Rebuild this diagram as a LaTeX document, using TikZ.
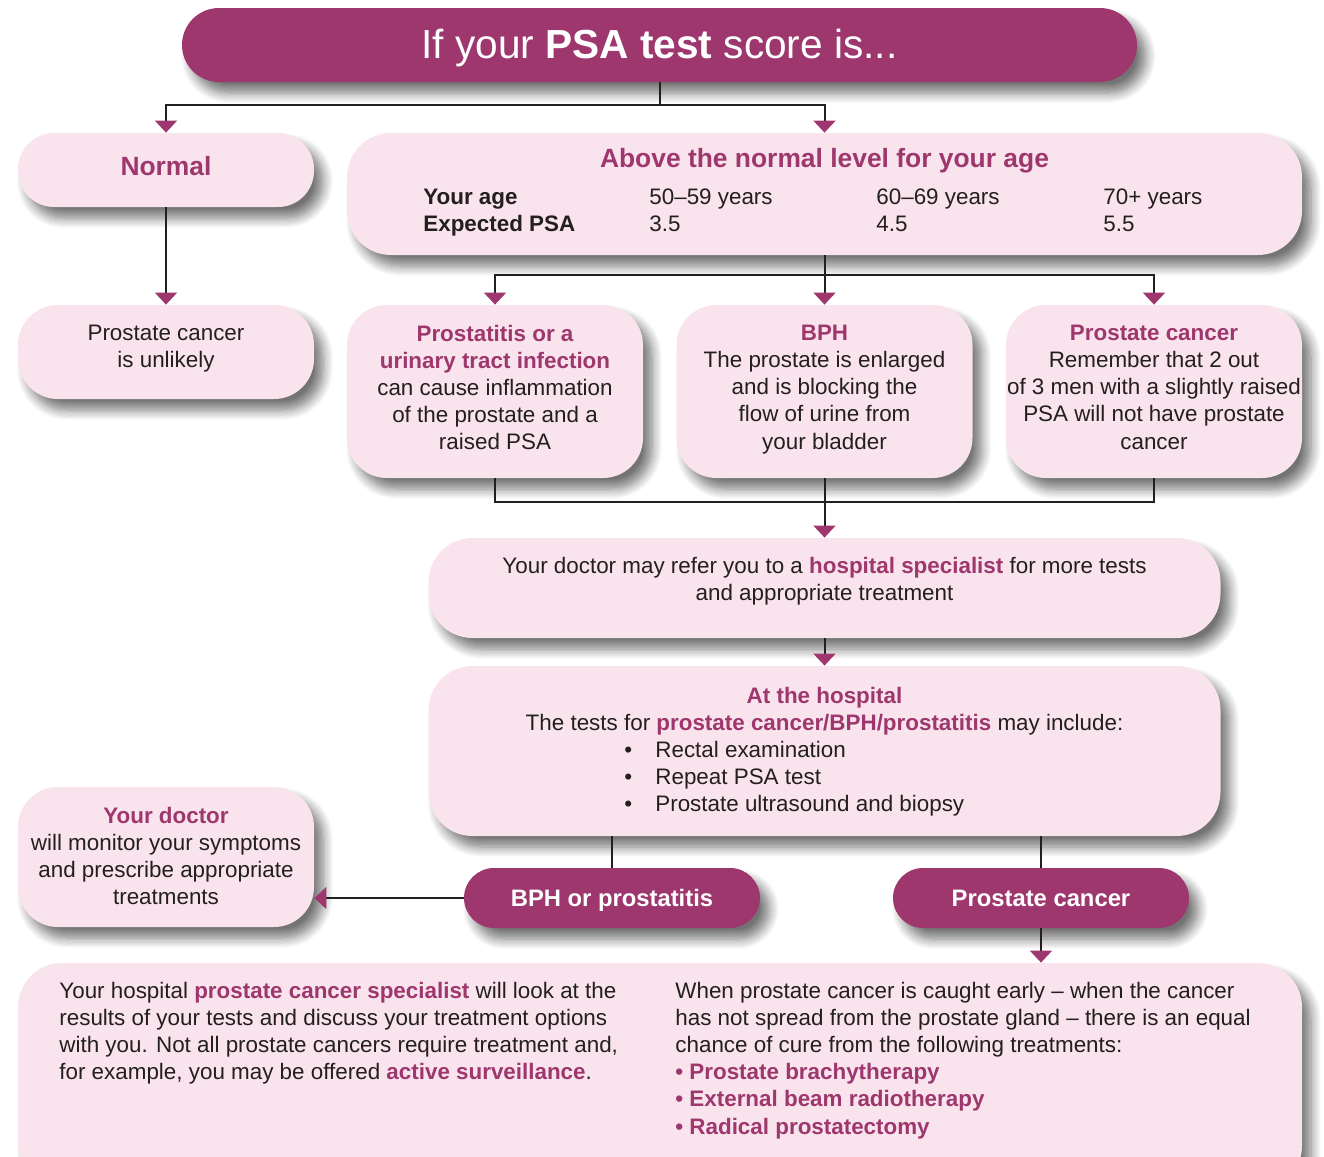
\documentclass[tikz,border=0pt]{standalone}
\usepackage{fontspec}
\setmainfont{Liberation Sans}
\usetikzlibrary{arrows.meta,shadows.blur}
\definecolor{mag}{RGB}{158,55,110}
\definecolor{pinkf}{RGB}{249,227,236}
\definecolor{linec}{RGB}{35,31,32}
\newcommand\mg[1]{{\bfseries\color{mag}#1}}
\begin{document}
\begin{tikzpicture}[x=0.5pt,y=-0.5pt,
  every node/.style={font=\fontsize{11.2}{13.6}\selectfont, inner sep=0pt, text=linec},
  shad/.style={blur shadow={shadow xshift=4.5pt, shadow yshift=-5.5pt, shadow blur radius=5pt, shadow blur steps=10, shadow opacity=55}},
  pinkbox/.style={shad, fill=pinkf, rounded corners=20pt},
  pillbox/.style={shad, fill=mag, rounded corners=15pt, minimum width=148pt, minimum height=30pt},
  hd/.style={font=\fontsize{13.2}{16}\selectfont\bfseries, text=mag},
  pilltext/.style={font=\fontsize{11.9}{14}\selectfont\bfseries, text=white},
  ctext/.style={align=center, anchor=north},
  link/.style={line width=1pt, draw=linec},
  arr/.style={link, -{Triangle[width=11pt,length=6pt,color=mag,fill=mag]}},
]
\useasboundingbox (0,0) rectangle (1324,1157);
\clip (0,0) rectangle (1324,1157);

% ---------- boxes ----------
\node[shad, fill=mag, rounded corners=18.5pt, minimum width=477.5pt, minimum height=37pt] (title) at (659.5,45) {};
\node[pinkbox, rounded corners=18pt, minimum width=148pt, minimum height=37pt] (normal) at (166,170) {};
\node[pinkbox, rounded corners=22pt, minimum width=477.5pt, minimum height=61pt] (above) at (824.5,194) {};
\node[pinkbox, minimum width=148pt, minimum height=47pt] (unlikely) at (166,352) {};
\node[pinkbox, minimum width=148pt, minimum height=86.5pt] (b1) at (495,391.5) {};
\node[pinkbox, minimum width=148pt, minimum height=86.5pt] (b2) at (824.5,391.5) {};
\node[pinkbox, minimum width=148pt, minimum height=86.5pt] (b3) at (1154,391.5) {};
\node[pinkbox, rounded corners=22pt, minimum width=396pt, minimum height=50pt] (doctor) at (824.5,588) {};
\node[pinkbox, rounded corners=22pt, minimum width=396pt, minimum height=85pt] (hosp) at (824.5,751) {};
\node[pinkbox, minimum width=148pt, minimum height=70pt] (ydoc) at (166,857) {};
\node[pillbox] (bph) at (612,898) {};
\node[pillbox] (pc) at (1041,898) {};
\node[pinkbox, rounded corners=22pt, minimum width=642pt, minimum height=113.5pt] (bottom) at (660,1076.5) {};

% ---------- connectors ----------
\coordinate (j1) at (659.5,105);
\draw[link] (title.south) -- (j1);
\draw[arr] (j1) -| (normal.north);
\draw[arr] (j1) -| (above.north);
\draw[arr] (normal.south) -- (unlikely.north);
\coordinate (j2) at (824.5,275);
\draw[link] (above.south) -- (j2);
\draw[arr] (j2) -| (b1.north);
\draw[arr] (j2) -| (b3.north);
\draw[arr] (j2) -- (b2.north);
\coordinate (j3) at (824.5,502);
\draw[link] (b1.south) |- (j3);
\draw[link] (b3.south) |- (j3);
\draw[arr] (b2.south) -- (doctor.north);
\draw[arr] (doctor.south) -- (hosp.north);
\draw[link] (hosp.south -| bph.north) -- (bph.north);
\draw[link] (hosp.south -| pc.north) -- (pc.north);
\draw[arr] (bph.west) -- (bph.west -| ydoc.east);
\draw[arr] (pc.south) -- (pc.south |- bottom.north);

% ---------- texts ----------
\node[anchor=base, text=white, font=\fontsize{20.3}{24}\selectfont] (titlet) at (659.5,58) {If your \textbf{PSA test} score is...};
\node[hd, anchor=base] (normalt) at (166,175) {Normal};
\node[hd, anchor=base] (abovet) at (824.5,167) {Above the normal level for your age};
\node[anchor=base west, font=\fontsize{11.2}{13.6}\selectfont\bfseries] (agel) at (423,204) {Your age};
\node[anchor=base west, font=\fontsize{11.2}{13.6}\selectfont\bfseries] (psal) at (423,231) {Expected PSA};
\node[anchor=base west] (a1) at (649,204) {50–59 years};
\node[anchor=base west] (p1) at (649,231) {3.5};
\node[anchor=base west] (a2) at (876,204) {60–69 years};
\node[anchor=base west] (p2) at (876,231) {4.5};
\node[anchor=base west] (a3) at (1103,204) {70+ years};
\node[anchor=base west] (p3) at (1103,231) {5.5};

\node[ctext] (unlikelyt) at (166,324.5) {Prostate cancer\\is unlikely};
\node[ctext] (b1t) at (495,324.5) {\mg{Prostatitis or a}\\\mg{urinary tract infection}\\can cause inflammation\\of the prostate and a\\raised PSA};
\node[ctext] (b2t) at (824.5,324.5) {\mg{BPH}\\The prostate is enlarged\\and is blocking the\\flow of urine from\\your bladder};
\node[ctext] (b3t) at (1154,324.5) {\mg{Prostate cancer}\\Remember that 2 out\\of 3 men with a slightly raised\\PSA will not have prostate\\cancer};
\node[ctext] (doctort) at (824.5,556.5) {Your doctor may refer you to a \mg{hospital specialist} for more tests\\and appropriate treatment};
\node[anchor=base, font=\fontsize{11.2}{13.6}\selectfont\bfseries, text=mag] (hospt) at (824.5,703) {At the hospital};
\node[anchor=base] (hospl) at (824.5,730) {The tests for \mg{prostate cancer/BPH/prostatitis} may include:};
\node[anchor=north west, align=left] (hospb) at (624,740.5) {\makebox[15.5pt][l]{•}Rectal examination\\\makebox[15.5pt][l]{•}Repeat PSA test\\\makebox[15.5pt][l]{•}Prostate ultrasound and biopsy};
\node[ctext] (ydoct) at (166,806.5) {\mg{Your doctor}\\will monitor your symptoms\\and prescribe appropriate\\treatments};
\node[pilltext, anchor=base] (bpht) at (612,906.5) {BPH or prostatitis};
\node[pilltext, anchor=base] (pct) at (1041,906.5) {Prostate cancer};
\node[anchor=north west, align=left] (botl) at (59,981.5) {Your hospital \mg{prostate cancer specialist} will look at the\\results of your tests and discuss your treatment options\\with you. Not all prostate cancers require treatment and,\\for example, you may be offered \mg{active surveillance}.};
\node[anchor=north west, align=left] (botr) at (675,981.5) {When prostate cancer is caught early – when the cancer\\has not spread from the prostate gland – there is an equal\\chance of cure from the following treatments:\\\mg{• Prostate brachytherapy}\\\mg{• External beam radiotherapy}\\\mg{• Radical prostatectomy}};
\end{tikzpicture}
\end{document}
